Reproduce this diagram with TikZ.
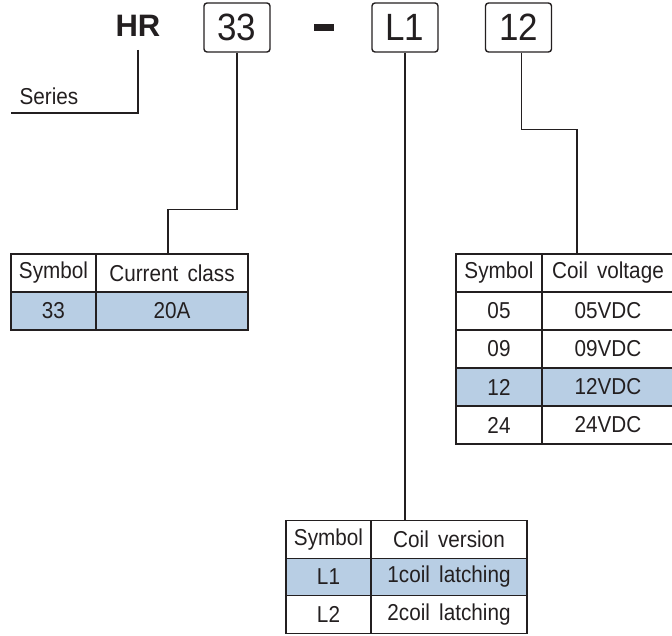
\documentclass[tikz,border=0pt]{standalone}
\usepackage{fontspec}
\setmainfont{Liberation Sans}
\newfontfamily\cellfont{Liberation Sans}[FakeStretch=0.9, WordSpace=1.6]
\newfontfamily\codefont{Liberation Sans}[FakeStretch=0.92]
\usetikzlibrary{positioning}
\definecolor{selblue}{RGB}{184,206,228}
\definecolor{ink}{RGB}{35,31,32}
\tikzset{codebox/.style={draw=ink, line width=1.4pt, rounded corners=3pt, minimum width=66pt, minimum height=49pt, inner sep=0pt, text=ink, font=\codefont\fontsize{38}{38}\selectfont}}
\tikzset{cell/.style={draw=ink, line width=1.2pt, minimum height=38pt, inner sep=0pt, outer sep=0pt, text=ink, font=\cellfont\fontsize{23}{23}\selectfont}}
\tikzset{pick/.style={fill=selblue}}
\tikzset{lead/.style={draw=ink, line width=1.2pt}}

\begin{document}
\begin{tikzpicture}[x=1pt, y=-1pt]
            \useasboundingbox (0,0) rectangle (672,635);
            \clip (0,0) rectangle (672,635);

            % part number
            \node[inner sep=0pt, text=ink, font=\bfseries\fontsize{31}{31}\selectfont] (hr) at (138,26) {HR};
            \node[codebox] (b33) at (237,27.5) {33};
            \node[fill=ink, minimum width=20pt, minimum height=7pt, inner sep=0pt] (dash) at (324,27) {};
            \node[codebox] (bL1) at (405,27.5) {L1};
            \node[codebox] (b12) at (518.5,27.5) {12};

            \node[inner sep=0pt, text=ink, font=\cellfont\fontsize{23}{23}\selectfont] (ser) at (49,96) {Series};
            \coordinate (serEnd) at (11,113);

            % current class
            \node[cell, minimum width=85pt] (curS) at (53.5,273) {Symbol};
            \node[cell, minimum width=152pt, right=0pt of curS] (curH) {Current class};
            \node[cell, pick, minimum width=85pt, below=0pt of curS] (curS1) {33};
            \node[cell, pick, minimum width=152pt, below=0pt of curH] (curV1) {20A};

            % coil voltage
            \node[cell, minimum width=86pt] (volS) at (499,273) {Symbol};
            \node[cell, minimum width=132pt, right=0pt of volS] (volH) {Coil voltage};
            \node[cell, minimum width=86pt, below=0pt of volS] (volS1) {05};
            \node[cell, minimum width=132pt, below=0pt of volH] (volV1) {05VDC};
            \node[cell, minimum width=86pt, below=0pt of volS1] (volS2) {09};
            \node[cell, minimum width=132pt, below=0pt of volV1] (volV2) {09VDC};
            \node[cell, pick, minimum width=86pt, below=0pt of volS2] (volS3) {12};
            \node[cell, pick, minimum width=132pt, below=0pt of volV2] (volV3) {12VDC};
            \node[cell, minimum width=86pt, below=0pt of volS3] (volS4) {24};
            \node[cell, minimum width=132pt, below=0pt of volV3] (volV4) {24VDC};

            % coil version
            \node[cell, minimum width=85pt, minimum height=37.5pt] (verS) at (328.5,539.5) {Symbol};
            \node[cell, minimum width=156pt, minimum height=37.5pt, right=0pt of verS] (verH) {Coil version};
            \node[cell, pick, minimum width=85pt, minimum height=37.5pt, below=0pt of verS] (verS1) {L1};
            \node[cell, pick, minimum width=156pt, minimum height=37.5pt, below=0pt of verH] (verV1) {1coil latching};
            \node[cell, minimum width=85pt, minimum height=37.5pt, below=0pt of verS1] (verS2) {L2};
            \node[cell, minimum width=156pt, minimum height=37.5pt, below=0pt of verV1] (verV2) {2coil latching};

            \draw[lead] ([yshift=-13pt]hr.south) |- (serEnd);
            \draw[lead] (b33.south) -- ++(0,157) -| ([xshift=-4pt]curH.north);
            \draw[lead] (bL1.south) -- (bL1.south |- verH.north);
            \draw[lead] ([xshift=3pt]b12.south) -- ++(0,77) -| ([xshift=-31pt]volH.north);
        \end{tikzpicture}
\end{document}
